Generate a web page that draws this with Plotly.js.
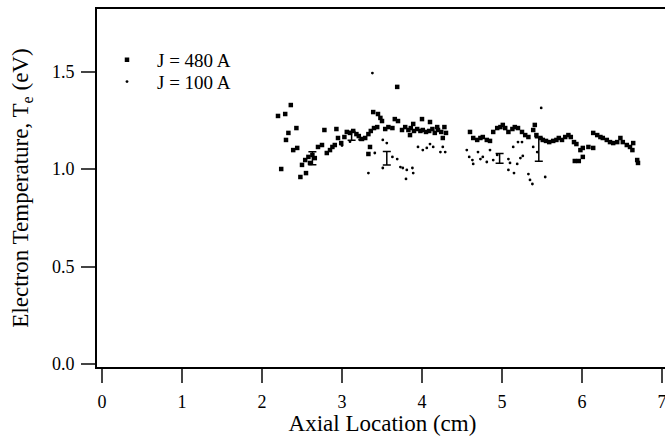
<!DOCTYPE html>
<html><head><meta charset="utf-8">
<script src="https://cdn.plot.ly/plotly-3.0.1.min.js"></script>
<style>html,body{margin:0;padding:0;overflow:hidden;background:#fff}#plot{width:680px;height:436px}</style>
</head><body><div id="plot"></div>
<script>
// J = 480 A (squares)
const x480 = [2.20,2.29,2.36,2.43,2.33,2.30,2.24,2.48,2.55,2.39,2.44,2.50,2.54,2.58,2.63,2.66,2.60,2.70,2.75,2.78,
2.93,2.81,2.85,2.88,2.91,2.95,2.99,3.03,3.06,3.10,3.14,3.18,3.21,3.25,3.29,3.33,3.36,3.40,3.44,3.39,
3.45,3.48,3.50,3.54,3.58,3.63,3.66,3.70,3.69,3.33,3.35,3.75,3.79,3.83,3.86,3.90,3.94,3.98,4.01,4.05,
4.09,4.13,4.16,4.20,4.24,4.28,4.30,4.00,4.10,4.19,3.85,3.89,4.26,
4.60,4.64,4.69,4.73,4.76,4.81,4.85,4.89,4.94,4.98,5.01,5.04,5.08,5.13,5.16,5.20,5.25,5.29,5.33,5.39,
5.41,5.43,5.48,5.51,5.55,5.59,5.64,5.68,5.71,5.75,5.79,5.83,5.86,5.90,5.93,5.98,6.01,6.08,6.14,6.14,
6.19,6.23,6.26,6.31,6.35,6.39,6.44,6.48,6.51,6.56,6.60,6.64,6.63,6.69,6.70,5.91,5.96,6.01];
const y480 = [1.272,1.282,1.328,1.210,1.185,1.149,1.000,0.959,0.979,1.097,1.108,1.021,1.046,1.062,1.072,1.056,1.031,1.113,1.123,1.200,
1.205,1.082,1.097,1.113,1.123,1.159,1.133,1.164,1.190,1.185,1.195,1.179,1.169,1.154,1.159,1.179,1.195,1.210,1.215,1.292,
1.282,1.262,1.246,1.205,1.215,1.210,1.256,1.246,1.421,1.077,1.113,1.200,1.215,1.200,1.210,1.195,1.205,1.195,1.200,1.190,
1.195,1.205,1.185,1.200,1.190,1.215,1.185,1.256,1.241,1.215,1.174,1.231,1.159,
1.190,1.159,1.149,1.159,1.164,1.149,1.144,1.190,1.210,1.215,1.226,1.210,1.190,1.205,1.215,1.210,1.190,1.174,1.164,1.200,
1.226,1.174,1.159,1.149,1.144,1.138,1.144,1.149,1.159,1.149,1.164,1.174,1.164,1.138,1.128,1.097,1.108,1.113,1.108,1.185,
1.174,1.164,1.159,1.149,1.138,1.133,1.138,1.159,1.138,1.123,1.113,1.133,1.097,1.046,1.031,1.041,1.041,1.062];
// J = 100 A (dots)
const x100 = [3.38,3.51,3.56,3.33,3.51,3.63,3.69,3.73,3.76,3.81,3.88,3.89,3.80,3.41,3.95,4.01,4.06,4.10,4.14,4.23,
4.26,4.29,4.56,4.59,4.63,4.64,4.70,4.73,4.76,4.81,4.85,4.89,4.94,5.08,5.10,5.14,5.19,5.23,5.26,5.20,
5.08,5.15,5.33,5.35,5.38,5.54,5.39,5.44,5.25,5.49,3.00,3.10,3.22];
const y100 = [1.492,1.149,1.133,0.979,1.005,1.062,1.051,1.010,1.005,0.995,1.005,0.979,0.949,1.082,1.113,1.097,1.108,1.128,1.113,1.087,
1.113,1.087,1.097,1.062,1.046,1.026,1.087,1.051,1.062,1.036,1.097,1.046,1.072,1.051,1.031,1.113,1.026,1.056,1.067,1.138,
0.995,0.979,0.974,0.944,0.923,0.959,1.113,1.087,1.138,1.313,1.12,1.14,1.15];
// representative error bars
const xErr = [2.63,3.12,3.56,4.97,5.46];
const yErr = [1.055,1.17,1.055,1.055,1.10];
const eErr = [0.033,0.022,0.035,0.025,0.06];

const serif = "'Times New Roman', 'Liberation Serif', serif";
const legFont = {family:serif,size:19,color:'#000'};
const traces = [
 {x:x480,y:y480,mode:'markers',type:'scatter',name:'J = 480 A',legend:'legend',
  marker:{symbol:'square',size:4.5,color:'#000'}},
 {x:x100,y:y100,mode:'markers',type:'scatter',name:'J = 100 A',legend:'legend2',
  marker:{symbol:'circle',size:2.8,color:'#000'}},
 {x:xErr,y:yErr,mode:'markers',type:'scatter',showlegend:false,
  marker:{size:0.1,color:'rgba(0,0,0,0)'},
  error_y:{type:'data',array:eErr,visible:true,color:'#000',thickness:1.5,width:4}}
];
const layout = {
 width:680,height:436,
 margin:{l:97,r:12,t:9,b:69},
 paper_bgcolor:'#fff',plot_bgcolor:'#fff',
 font:{family:serif,size:18,color:'#000'},
 showlegend:true,
 legend:{x:0.0,y:0.911,xanchor:'left',yanchor:'top',font:legFont,bgcolor:'rgba(0,0,0,0)',itemwidth:50},
 legend2:{x:0.0,y:0.850,xanchor:'left',yanchor:'top',font:legFont,bgcolor:'rgba(0,0,0,0)',itemwidth:50},
 xaxis:{range:[-0.0625,7.075],tickvals:[0,1,2,3,4,5,6,7],ticks:'outside',ticklen:14,tickwidth:2,ticklabelstandoff:3,
  showline:true,linewidth:2,linecolor:'#000',mirror:true,showgrid:false,zeroline:false,automargin:false,
  tickfont:{family:serif,size:18},title:{text:'Axial Location (cm)',font:{family:serif,size:23},standoff:0}},
 yaxis:{range:[-0.0154,1.8205],tickvals:[0,0.5,1,1.5],tickformat:'.1f',ticks:'outside',ticklen:14,tickwidth:2,ticklabelstandoff:3,
  showline:true,linewidth:2,linecolor:'#000',mirror:true,showgrid:false,zeroline:false,automargin:false,
  tickfont:{family:serif,size:18},title:{text:'Electron Temperature, T<sub>e</sub> (eV)',font:{family:serif,size:23},standoff:17}}
};
Plotly.newPlot('plot',traces,layout,{displayModeBar:false,staticPlot:true});
</script></body></html>
